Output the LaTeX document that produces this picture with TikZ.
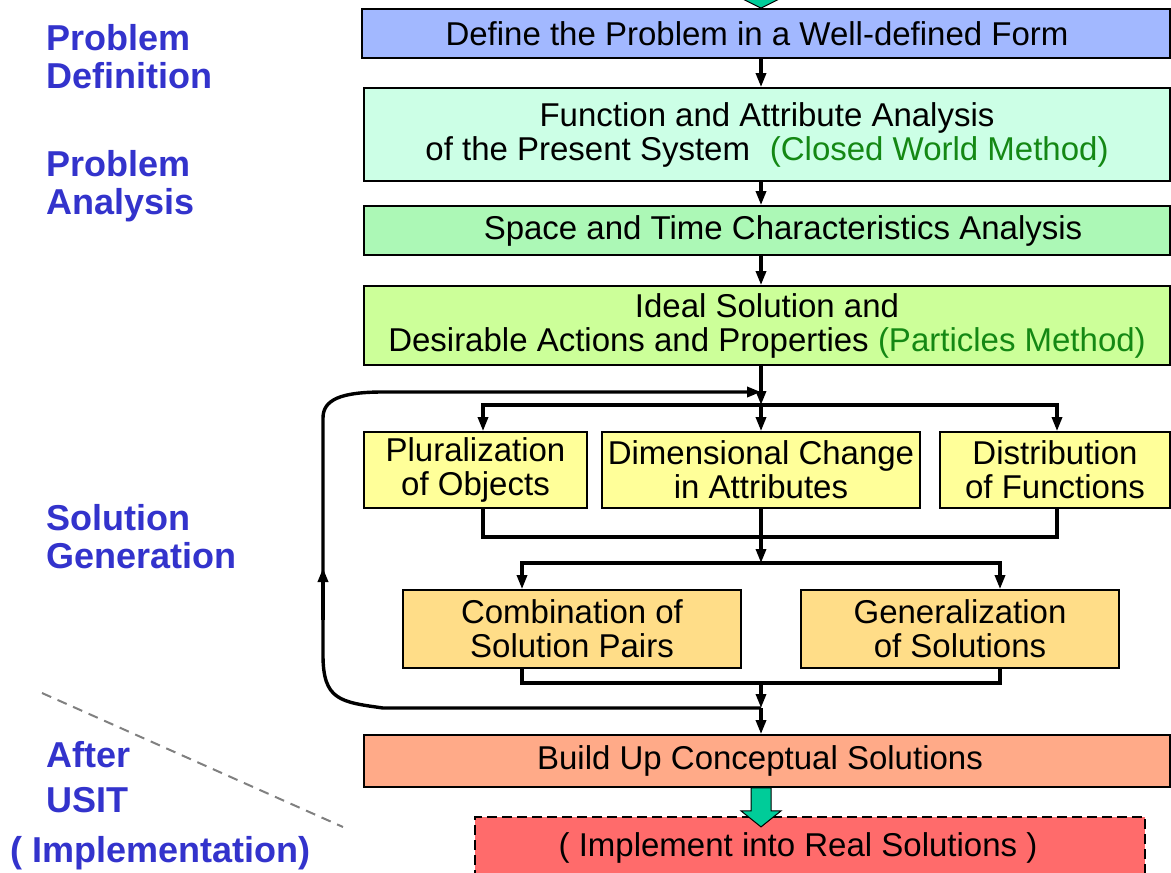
\documentclass[tikz,border=0pt]{standalone}
\usepackage{fontspec}
\setmainfont{Liberation Sans}
\usetikzlibrary{arrows.meta}

\definecolor{defblue}{RGB}{162,184,255}
\definecolor{funcgreen}{RGB}{204,255,230}
\definecolor{spacegreen}{RGB}{172,248,182}
\definecolor{idealgreen}{RGB}{204,255,153}
\definecolor{methyellow}{RGB}{255,255,153}
\definecolor{combiorange}{RGB}{255,221,136}
\definecolor{buildsalmon}{RGB}{255,170,136}
\definecolor{implred}{RGB}{255,107,107}
\definecolor{fatgreen}{RGB}{0,204,153}
\definecolor{stageblue}{RGB}{51,51,204}
\definecolor{methodgreen}{RGB}{20,136,20}

\newcommand{\boxfont}{\fontsize{16.5}{17}\selectfont}
\newcommand{\stagefont}{\fontsize{18}{19}\selectfont\bfseries}

\tikzset{
  box/.style={draw, line width=0.9pt, inner sep=0pt, align=center, font=\boxfont},
  stage/.style={inner sep=0pt, align=left, font=\stagefont, text=stageblue},
  wire/.style={line width=1.6pt},
  arr/.style={wire, -{Triangle[length=7pt,width=5pt]}},
  loopline/.style={line width=1.7pt},
  fat/.style={fill=fatgreen, draw=black, line width=0.5pt},
}

\begin{document}
\begin{tikzpicture}[x=0.5pt,y=-0.5pt]
\useasboundingbox (0,0) rectangle (1171,872);
\coordinate (spine) at (761,0);

% Stage labels on the left
\node[stage, anchor=west] (pdef) at (46,57) {Problem\\Definition};
\node[stage, anchor=west] (pana) at (46,186) {Problem\\Analysis};
\node[stage, anchor=west] (sgen) at (46,537) {Solution\\Generation};
\node[stage, anchor=west] (after) at (46,777) {After\\[3.5pt]USIT};
\node[stage, anchor=west] (impllab) at (10,853) {( Implementation)};
\draw[gray, line width=1pt, dash pattern=on 5pt off 3.5pt] (42,693) -- (343,827);

% Main steps
\node[box, fill=defblue, minimum width=404pt, minimum height=24.5pt] (define) at (766,33.5)
  {\hspace*{-9pt}Define the Problem in a Well-defined Form};
\node[box, fill=funcgreen, minimum width=403pt, minimum height=46.5pt] (func) at (767,134.5)
  {Function and Attribute Analysis\\of the Present System\hspace{0.6em}{\color{methodgreen}(Closed World Method)}};
\node[box, fill=spacegreen, minimum width=403pt, minimum height=24.5pt] (space) at (767,230.5)
  {\hspace*{16pt}Space and Time Characteristics Analysis};
\node[box, fill=idealgreen, minimum width=403pt, minimum height=39.5pt] (ideal) at (767,325.5)
  {Ideal Solution and\\Desirable Actions and Properties {\color{methodgreen}(Particles Method)}};

% Solution generation methods
\node[box, fill=methyellow, minimum width=111.5pt, minimum height=38pt] (plural) at (475.5,470)
  {Pluralization\\of Objects};
\node[box, fill=methyellow, minimum width=159pt, minimum height=38pt] (dimen) at (761,470)
  {Dimensional Change\\in Attributes};
\node[box, fill=methyellow, minimum width=115pt, minimum height=38pt] (distr) at (1055,470)
  {Distribution\\of Functions};
\node[box, fill=combiorange, minimum width=169pt, minimum height=39pt] (combi) at (572,629)
  {Combination of\\Solution Pairs};
\node[box, fill=combiorange, minimum width=159pt, minimum height=39pt] (general) at (960,629)
  {Generalization\\of Solutions};

% Final steps
\node[box, fill=buildsalmon, minimum width=403pt, minimum height=26pt] (build) at (767,761)
  {\hspace*{-7pt}Build Up Conceptual Solutions};
\node[box, fill=implred, dash pattern=on 5pt off 2.5pt, minimum width=335pt, minimum height=31pt] (impl) at (810,848)
  {\hspace*{-12pt}( Implement into Real Solutions )};

% Fat arrows
\filldraw[fat] (define.north -| spine) -- ++(-20,-10) -- ++(10,0) -- ++(0,-20) -- ++(20,0) -- ++(0,20) -- ++(10,0) -- cycle;
\filldraw[fat] (build.south -| spine) ++(-10,0) -- ++(0,23) -- ++(-10,0) -- ++(20,16) -- ++(20,-16) -- ++(-10,0) -- ++(0,-23) -- cycle;

% Flow
\draw[arr] (define.south -| spine) -- (func.north -| spine);
\draw[arr] (func.south -| spine) -- (space.north -| spine);
\draw[arr] (space.south -| spine) -- (ideal.north -| spine);
\coordinate (split1) at (761,405);
\draw[arr] (ideal.south -| spine) -- (split1);
\draw[arr] (split1) -| ([xshift=3.75pt]plural.north);
\draw[arr] (split1) -- (dimen.north);
\draw[arr] (split1) -| ([xshift=1pt]distr.north);
\coordinate (merge1) at (761,537);
\draw[wire] ([xshift=3.75pt]plural.south) |- (merge1) -| ([xshift=1pt]distr.south);
\coordinate (split2) at (761,563);
\draw[arr] (dimen.south) -- (split2);
\draw[arr] (split2) -| ([xshift=-25pt]combi.north);
\draw[arr] (split2) -| ([xshift=20pt]general.north);
\coordinate (merge2) at (761,683);
\draw[wire] ([xshift=-25pt]combi.south) |- (merge2) -| ([xshift=20pt]general.south);
\coordinate (join) at (761,708);
\draw[arr] (merge2) -- (join);
\draw[arr] (join) -- (build.north -| spine);

% Feedback loop
\coordinate (entry) at (761,392);
\draw[loopline, -{Triangle[length=7pt,width=5pt]}] (join) -- (383,708)
  .. controls (340,702) and (323,700) .. (323,655) -- (323,418)
  .. controls (323,400) and (340,392) .. (383,392) -- (entry);
\draw[loopline, -{Triangle[length=7pt,width=5pt]}] (323,620) -- (323,568);

\end{tikzpicture}
\end{document}
